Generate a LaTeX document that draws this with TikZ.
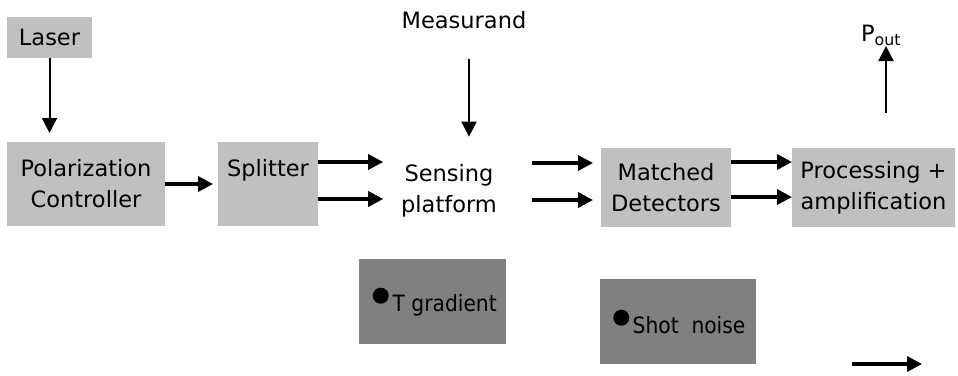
\documentclass[tikz,border=0pt]{standalone}
\usepackage{fontspec}
\setmainfont{DejaVu Sans}
\newfontfamily\condensedsans{DejaVu Sans Condensed}
\usetikzlibrary{arrows.meta,calc}
\definecolor{boxlight}{HTML}{C0C0C0}
\definecolor{boxdark}{HTML}{808080}
\begin{document}
\begin{tikzpicture}[x=1pt,y=-1pt,
  every node/.style={inner sep=0pt, outer sep=0pt},
  lbl/.style={font=\fontsize{22.5}{31}\selectfont, align=center},
  graybox/.style={lbl, fill=boxlight},
  noisebox/.style={fill=boxdark},
  noisetext/.style={font=\condensedsans\fontsize{22.5}{27}\selectfont, anchor=base west},
  dot/.style={circle, fill=black, minimum size=16pt},
  thinarrow/.style={line width=2pt, -{Triangle[length=15pt,width=15pt]}},
  thickarrow/.style={line width=3.5pt, -{Triangle[length=15pt,width=15pt]}},
]
\useasboundingbox[fill=white] (0,0) rectangle (958,375);

% main signal chain
\node[graybox, minimum width=85pt, minimum height=41pt] (laser) at (49.5,37.5) {Laser};
\node[graybox, minimum width=158pt, minimum height=84pt] (polar) at (86,184) {Polarization\\Controller};
\node[graybox, minimum width=100pt, minimum height=84pt] (split) at (268,184) {Splitter\\[-8pt]\strut};
\node[lbl] (sense) at (449,190.5) {Sensing\\platform};
\node[graybox, minimum width=130pt, minimum height=79pt] (match) at (666,187.5) {Matched\\Detectors};
\node[graybox, minimum width=163pt, minimum height=79pt] (proc) at (873.5,187.5) {Processing +\\amplification};
\node[lbl] (meas) at (464,20) {Measurand};
\node[lbl, anchor=south] (pout) at (881,46) {P\textsubscript{out}};

% noise sources
\node[noisebox, minimum width=147pt, minimum height=85pt] (tbox) at (432.5,301.5) {};
\node[noisebox, minimum width=156pt, minimum height=85pt] (sbox) at (678,321.5) {};
\node[dot] (tdot) at (380.7,295.7) {};
\node[noisetext] (ttext) at (392.7,311) {T gradient};
\node[dot] (sdot) at (621.3,317.7) {};
\node[noisetext] (stext) at (632.7,333) {Shot\ \ noise};

% connectors
\draw[thinarrow, shorten >=9pt] (laser.south) -- (laser.south |- polar.north);
\draw[thickarrow, shorten >=5pt] (polar.east) -- (split.west);
\draw[thickarrow] ([yshift=22pt]split.east) -- ([xshift=-18pt,yshift=28.5pt]sense.west);
\draw[thickarrow] ([yshift=-15pt]split.east) -- ([xshift=-18pt,yshift=-8.5pt]sense.west);
\draw[thickarrow] ([xshift=35pt,yshift=27.5pt]sense.east) -- ([xshift=-8pt,yshift=24.5pt]match.west);
\draw[thickarrow] ([xshift=35pt,yshift=-9.5pt]sense.east) -- ([xshift=-8pt,yshift=-12.5pt]match.west);
\draw[thickarrow] ([yshift=25.5pt]match.east) -- ([yshift=25.5pt]proc.west);
\draw[thickarrow] ([yshift=-9.5pt]match.east) -- ([yshift=-9.5pt]proc.west);
\draw[thinarrow] ([xshift=5pt,yshift=-30pt]meas.south) -- ([xshift=5pt,yshift=27.5pt]meas.south |- sense.north);
\draw[thinarrow] ([xshift=12.5pt,yshift=35pt]proc.north) -- ([xshift=5pt]pout.south);

% free arrow at the lower right
\coordinate (freetail) at (852,364);
\coordinate (freehead) at (922,364);
\draw[thickarrow] (freetail) -- (freehead);
\end{tikzpicture}
\end{document}
